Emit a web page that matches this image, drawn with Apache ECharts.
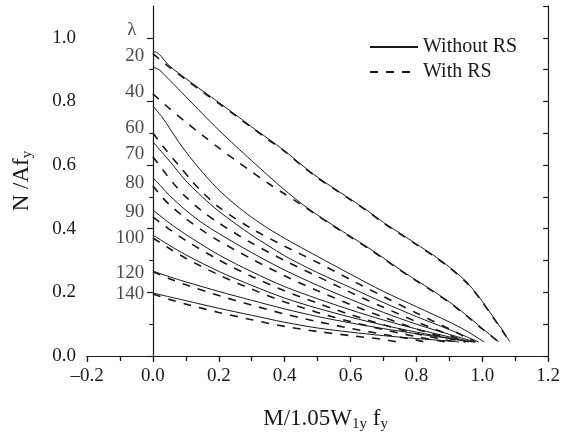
<!DOCTYPE html>
<html><head><meta charset="utf-8">
<script src="https://cdn.jsdelivr.net/npm/echarts@6/dist/echarts.min.js"></script>
<style>html,body{margin:0;padding:0;background:#fff}#c{width:563px;height:437px}</style>
</head><body><div id="c"></div>
<script>
// ---- data ----
const xTicks = [-0.2, 0.0, 0.2, 0.4, 0.6, 0.8, 1.0, 1.2];
const yTicks = [0.0, 0.2, 0.4, 0.6, 0.8, 1.0];
const yMinorTicks = [0.1, 0.3, 0.5, 0.7, 0.9];
const lambdaTexts = ['λ', '20', '40', '60', '70', '80', '90', '100', '120', '140'];
const lambdaLabelX = [-0.045, -0.022, -0.022, -0.022, -0.022, -0.022, -0.022, -0.022, -0.022, -0.022];
const lambdaLabelY = [1.025, 0.943, 0.83, 0.717, 0.635, 0.544, 0.453, 0.371, 0.261, 0.195];

// Without RS (solid)
const s20 = [[0,0.956],[0.01,0.955],[0.05,0.912],[0.1,0.872],[0.15,0.834],[0.2,0.797],[0.25,0.759],[0.3,0.72],[0.35,0.683],[0.4,0.645],[0.45,0.602],[0.5,0.562],[0.55,0.527],[0.6,0.493],[0.65,0.458],[0.7,0.42],[0.75,0.386],[0.8,0.352],[0.85,0.318],[0.9,0.28],[0.95,0.235],[0.99,0.186],[1.033,0.123],[1.057,0.088],[1.084,0.044]];
const s40 = [[0,0.906],[0.01,0.905],[0.05,0.868],[0.1,0.815],[0.15,0.762],[0.2,0.71],[0.25,0.661],[0.3,0.614],[0.35,0.567],[0.4,0.522],[0.45,0.48],[0.5,0.443],[0.55,0.409],[0.6,0.376],[0.65,0.343],[0.7,0.308],[0.75,0.272],[0.8,0.238],[0.85,0.205],[0.9,0.17],[0.95,0.13],[1.0,0.087],[1.051,0.044]];
const s60 = [[0,0.786],[0.027,0.752],[0.05,0.717],[0.087,0.66],[0.137,0.594],[0.197,0.525],[0.25,0.476],[0.3,0.436],[0.35,0.401],[0.4,0.37],[0.436,0.349],[0.5,0.313],[0.6,0.257],[0.7,0.203],[0.8,0.155],[0.9,0.107],[0.95,0.08],[1.006,0.044]];
const s70 = [[0,0.673],[0.048,0.616],[0.098,0.553],[0.128,0.522],[0.15,0.5],[0.2,0.455],[0.3,0.38],[0.4,0.315],[0.436,0.295],[0.5,0.262],[0.6,0.215],[0.7,0.168],[0.8,0.124],[0.9,0.083],[0.99,0.044]];
const s80 = [[0,0.56],[0.027,0.531],[0.05,0.505],[0.1,0.458],[0.15,0.418],[0.2,0.385],[0.3,0.325],[0.4,0.27],[0.5,0.222],[0.6,0.178],[0.7,0.137],[0.8,0.1],[0.9,0.068],[0.98,0.044]];
const s90 = [[0,0.459],[0.05,0.418],[0.1,0.382],[0.2,0.318],[0.3,0.265],[0.4,0.218],[0.5,0.18],[0.6,0.145],[0.7,0.113],[0.8,0.085],[0.9,0.06],[0.975,0.044]];
const s100 = [[0,0.38],[0.05,0.348],[0.1,0.318],[0.2,0.266],[0.3,0.222],[0.4,0.182],[0.5,0.15],[0.6,0.122],[0.7,0.097],[0.8,0.075],[0.9,0.056],[0.97,0.044]];
const s120 = [[0,0.267],[0.05,0.249],[0.1,0.233],[0.2,0.203],[0.3,0.175],[0.4,0.148],[0.5,0.124],[0.6,0.104],[0.7,0.086],[0.8,0.07],[0.9,0.055],[0.96,0.044]];
const s140 = [[0,0.198],[0.05,0.186],[0.1,0.174],[0.2,0.15],[0.3,0.128],[0.4,0.106],[0.5,0.088],[0.6,0.075],[0.7,0.064],[0.8,0.055],[0.9,0.047],[0.93,0.044]];

// With RS (dashed)
const d20 = [[0,0.95],[0.05,0.908],[0.1,0.869],[0.15,0.831],[0.2,0.794],[0.25,0.756],[0.3,0.718],[0.35,0.68],[0.4,0.643],[0.45,0.6],[0.5,0.56],[0.55,0.525],[0.6,0.491],[0.65,0.456],[0.7,0.418],[0.75,0.384],[0.8,0.35],[0.85,0.316],[0.9,0.278],[0.95,0.233],[0.99,0.184],[1.033,0.121],[1.057,0.086],[1.083,0.044]];
const d40 = [[0,0.824],[0.05,0.778],[0.1,0.735],[0.15,0.694],[0.2,0.654],[0.25,0.616],[0.3,0.579],[0.35,0.543],[0.4,0.509],[0.45,0.476],[0.5,0.441],[0.55,0.407],[0.6,0.374],[0.65,0.341],[0.7,0.306],[0.75,0.27],[0.8,0.236],[0.85,0.203],[0.9,0.168],[0.95,0.128],[1.0,0.085],[1.05,0.044]];
const d60 = [[0,0.701],[0.039,0.648],[0.078,0.6],[0.116,0.553],[0.15,0.515],[0.2,0.468],[0.3,0.4],[0.4,0.345],[0.5,0.294],[0.6,0.24],[0.7,0.187],[0.8,0.135],[0.9,0.085],[0.979,0.044]];
const d70 = [[0,0.626],[0.042,0.569],[0.072,0.531],[0.1,0.5],[0.15,0.455],[0.2,0.418],[0.3,0.355],[0.4,0.3],[0.5,0.25],[0.6,0.2],[0.7,0.153],[0.8,0.108],[0.9,0.066],[0.95,0.044]];
const d80 = [[0,0.535],[0.03,0.497],[0.05,0.476],[0.1,0.432],[0.15,0.395],[0.2,0.362],[0.3,0.305],[0.4,0.252],[0.5,0.205],[0.6,0.162],[0.7,0.122],[0.8,0.085],[0.9,0.055],[0.949,0.044]];
const d90 = [[0,0.437],[0.05,0.398],[0.1,0.363],[0.2,0.302],[0.3,0.25],[0.4,0.205],[0.5,0.166],[0.6,0.13],[0.7,0.098],[0.8,0.07],[0.9,0.048],[0.919,0.044]];
const d100 = [[0,0.371],[0.05,0.338],[0.1,0.307],[0.2,0.255],[0.3,0.21],[0.4,0.17],[0.5,0.137],[0.6,0.108],[0.7,0.083],[0.8,0.061],[0.889,0.044]];
const d120 = [[0,0.265],[0.05,0.243],[0.1,0.224],[0.2,0.19],[0.3,0.16],[0.4,0.132],[0.5,0.108],[0.6,0.087],[0.7,0.068],[0.8,0.05],[0.824,0.044]];
const d140 = [[0,0.195],[0.05,0.178],[0.1,0.163],[0.2,0.137],[0.3,0.114],[0.4,0.093],[0.5,0.077],[0.6,0.064],[0.7,0.052],[0.743,0.044]];

const solidCurves = [s20, s40, s60, s70, s80, s90, s100, s120, s140];
const dashedCurves = [d20, d40, d60, d70, d80, d90, d100, d120, d140];
const legendNames = ['Without RS', 'With RS'];

// ---- chart ----
const FONT = "'Liberation Serif','Times New Roman',serif";
const INK = '#1a1a1a';
const chart = echarts.init(document.getElementById('c'), null, {renderer: 'canvas'});

const series = [];
solidCurves.forEach(d => series.push({
  type: 'line', name: legendNames[0], data: d, showSymbol: false, symbol: 'none',
  smooth: 0.3, lineStyle: {color: INK, width: 1, type: 'solid'}, itemStyle: {color: INK},
  silent: true, z: 3
}));
dashedCurves.forEach(d => series.push({
  type: 'line', name: legendNames[1], data: d, showSymbol: false, symbol: 'none',
  smooth: 0.3, lineStyle: {color: INK, width: 1.6, type: [8, 8]}, itemStyle: {color: INK},
  silent: true, z: 4
}));
series.push({
  type: 'scatter', symbolSize: 0, silent: true,
  data: lambdaTexts.map((t, i) => ({value: [lambdaLabelX[i], lambdaLabelY[i]], name: t})),
  label: {show: true, position: 'left', distance: 1.5, formatter: p => p.name,
          fontFamily: FONT, fontSize: 19, color: INK}
});

const fmt = v => {
  const a = Math.abs(v) < 1e-9 ? 0 : v;
  return (a < 0 ? '\u2013' : '') + Math.abs(a).toFixed(1);
};
const axisLine = {show: true, lineStyle: {color: INK, width: 1.2}};

chart.setOption({
  animation: false,
  backgroundColor: '#fff',
  grid: {left: 87, right: 7, top: 6, bottom: 81, containLabel: false},
  legend: {
    data: legendNames, orient: 'vertical', left: 369, top: 37,
    itemWidth: 48, itemHeight: 14, itemGap: 5, padding: 0,
    itemStyle: {opacity: 0},
    textStyle: {fontFamily: FONT, fontSize: 20, color: INK, lineHeight: 20},
    selectedMode: false
  },
  xAxis: [
    {
      type: 'value', position: 'bottom', min: -0.2, max: 1.2, interval: 0.2,
      axisLine: axisLine,
      axisTick: {show: true, inside: false, length: 6, lineStyle: {color: INK, width: 1.2}},
      minorTick: {show: true, splitNumber: 2, length: 3.5, lineStyle: {color: INK, width: 1.2}},
      splitLine: {show: false},
      axisLabel: {fontFamily: FONT, fontSize: 19, color: INK, margin: 11, formatter: fmt},
      name: '{a|M/1.05W}{s|1y}{a| f}{s|y}',
      nameLocation: 'middle', nameGap: 50,
      nameTextStyle: {
        fontFamily: FONT, color: INK, padding: [0, 0, 0, 16],
        rich: {
          a: {fontFamily: FONT, fontSize: 23, color: INK, lineHeight: 26},
          s: {fontFamily: FONT, fontSize: 15, color: INK, lineHeight: 14, verticalAlign: 'bottom'}
        }
      }
    },
    {
      type: 'value', position: 'top', min: -0.2, max: 1.2, interval: 0.1,
      axisLine: axisLine,
      axisTick: {show: true, inside: true, length: 5, lineStyle: {color: INK, width: 1.2}},
      axisLabel: {show: false}, splitLine: {show: false}
    }
  ],
  yAxis: [
    {
      type: 'value', position: 'left', min: 0, max: 1.1, interval: 0.1,
      axisLine: axisLine,
      axisTick: {show: true, inside: false, length: 6, customValues: yTicks, lineStyle: {color: INK, width: 1.2}},
      splitLine: {show: false},
      axisLabel: {fontFamily: FONT, fontSize: 19, color: INK, margin: 11, customValues: yTicks, formatter: fmt},
      name: '{a|N /Af}{s|y}',
      nameLocation: 'middle', nameGap: 52, nameRotate: 90,
      nameTextStyle: {
        fontFamily: FONT, color: INK,
        rich: {
          a: {fontFamily: FONT, fontSize: 23, color: INK, lineHeight: 26},
          s: {fontFamily: FONT, fontSize: 15, color: INK, lineHeight: 14, verticalAlign: 'bottom'}
        }
      }
    },
    {
      type: 'value', position: 'left', min: 0, max: 1.1, interval: 0.1,
      axisLine: {show: false},
      axisTick: {show: true, inside: false, length: 3.5, customValues: yMinorTicks, lineStyle: {color: INK, width: 1.2}},
      axisLabel: {show: false}, splitLine: {show: false}
    },
    {
      type: 'value', position: 'right', min: 0, max: 1.1, interval: 0.1,
      axisLine: axisLine,
      axisTick: {show: true, inside: true, length: 5, lineStyle: {color: INK, width: 1.2}},
      axisLabel: {show: false}, splitLine: {show: false}
    }
  ],
  series: series
});
</script>
</body></html>
